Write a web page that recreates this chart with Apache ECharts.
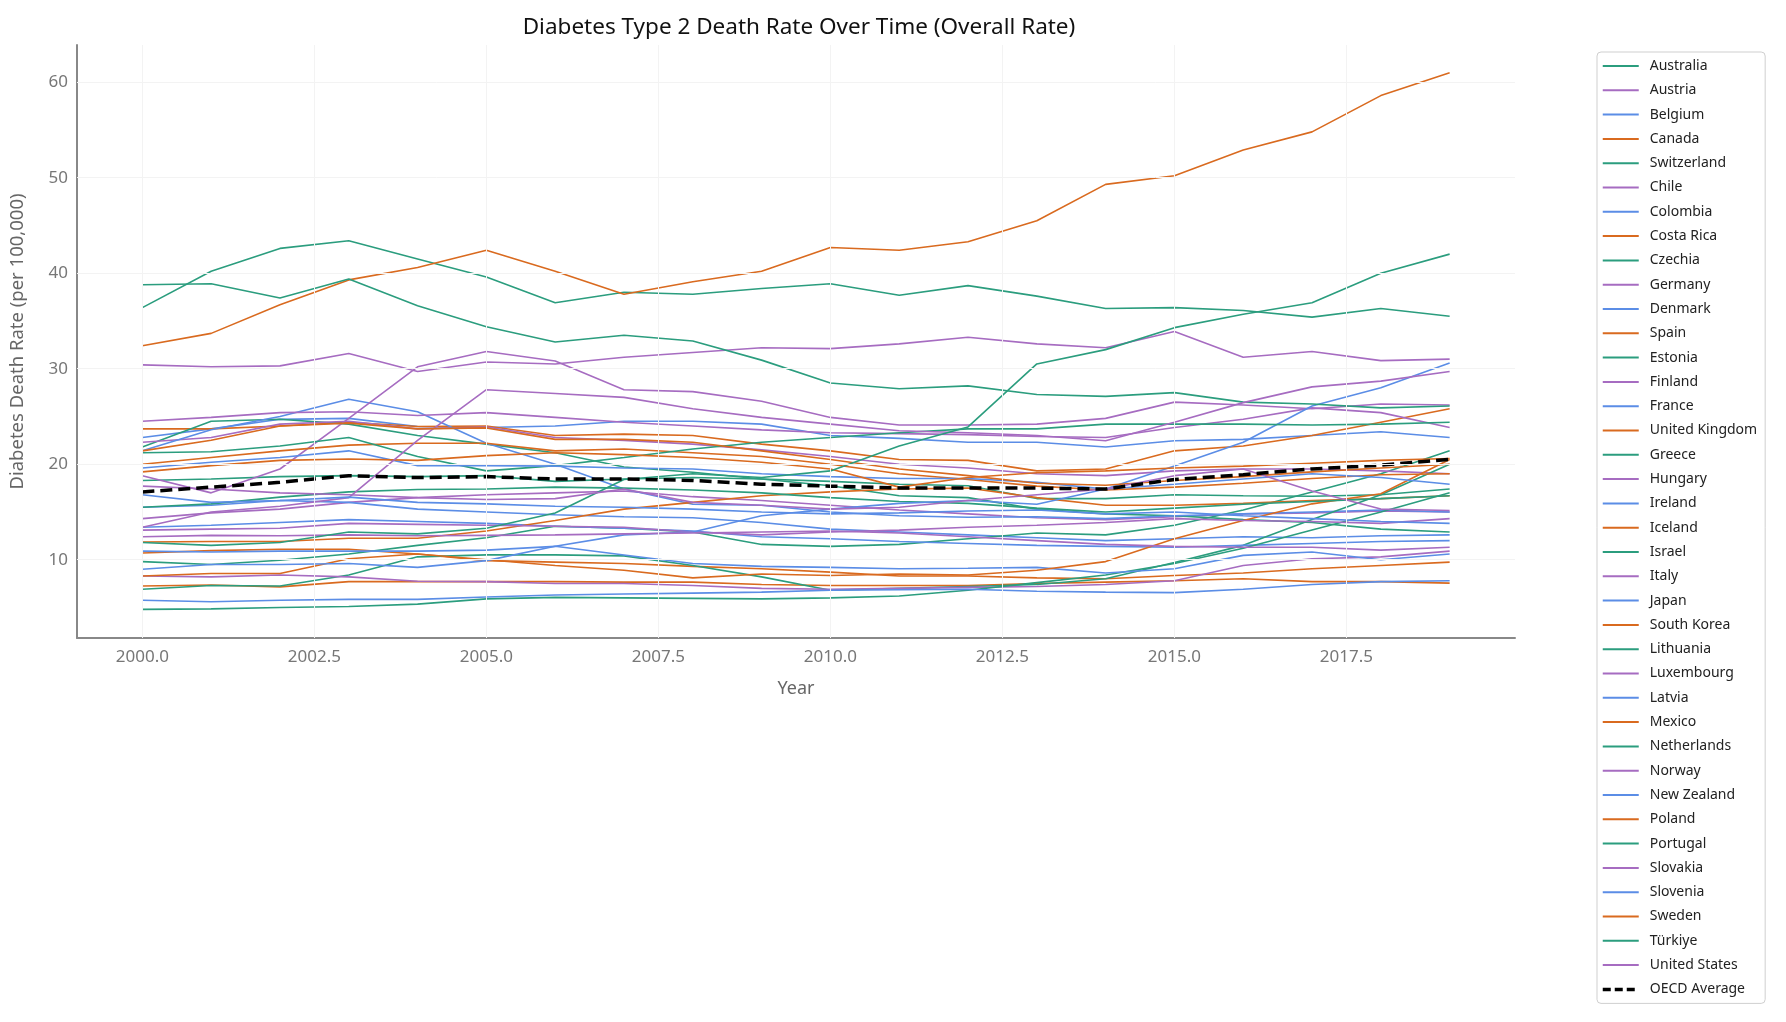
<!DOCTYPE html>
<html>
<head>
<meta charset="utf-8">
<script src="https://cdn.jsdelivr.net/npm/echarts@6/dist/echarts.min.js"></script>
<style>
html,body{margin:0;padding:0;background:#fff;}
#chart{width:1786px;height:1022px;}
</style>
</head>
<body>
<div id="chart"></div>
<script>
const years = [2000,2001,2002,2003,2004,2005,2006,2007,2008,2009,2010,2011,2012,2013,2014,2015,2016,2017,2018,2019];

const australia   = [18.3,18.45,18.7,18.8,18.7,18.8,18.2,18.45,18.6,18.45,18.2,17.9,17.75,16.4,16.4,16.8,16.7,16.65,16.8,17.4];
const austria     = [14.3,14.9,15.3,16.0,16.5,16.8,17.0,17.2,16.6,16.2,15.7,15.2,14.8,14.4,14.2,14.5,14.8,14.9,15.1,15.0];
const belgium     = [15.5,15.7,16.2,16.0,15.3,15.0,14.7,14.5,14.4,13.9,13.2,12.9,12.6,12.3,12.0,12.2,12.4,12.3,12.5,12.6];
const canada      = [10.7,10.95,11.1,11.1,10.6,9.9,9.75,9.6,9.3,9.05,8.7,8.3,8.3,8.1,8.0,8.35,8.6,9.05,9.4,9.75];
const switzerland = [9.8,9.5,9.95,10.6,11.5,12.3,13.5,13.3,12.9,11.6,11.4,11.6,12.2,12.8,12.6,13.6,15.2,17.1,19.0,21.4];
const chile       = [30.4,30.2,30.3,31.6,29.7,30.7,30.5,31.2,31.7,32.2,32.1,32.6,33.3,32.6,32.2,33.9,31.2,31.8,30.85,31.0];
const colombia    = [22.8,23.7,24.7,24.8,23.95,23.85,24.0,24.5,24.5,24.2,23.0,22.7,22.3,22.3,21.8,22.45,22.6,23.0,23.4,22.8];
const costaRica   = [23.7,23.7,24.0,24.4,23.95,24.0,23.0,23.15,23.0,22.1,21.4,20.5,20.4,19.3,19.5,21.4,21.9,23.0,24.4,25.8];
const czechia     = [21.8,24.5,24.7,24.2,23.0,22.1,21.2,19.7,19.15,18.45,17.75,16.7,16.5,15.3,14.8,14.6,14.2,13.9,13.2,12.9];
const germany     = [22.3,22.8,24.2,24.5,23.7,23.9,22.8,22.5,22.1,21.5,20.8,20.0,19.6,19.0,18.8,19.3,19.5,19.5,19.3,19.0];
const denmark     = [21.4,23.6,25.0,26.8,25.5,22.2,20.0,17.4,15.8,15.7,15.0,14.6,14.45,14.5,14.3,14.6,14.8,15.0,15.2,15.0];
const spain       = [7.25,7.35,7.15,7.7,7.7,7.7,7.7,7.65,7.65,7.4,7.3,7.3,7.3,7.5,7.65,7.8,8.0,7.7,7.7,7.55];
const estonia     = [6.9,7.3,7.25,8.4,10.3,10.5,10.5,10.4,9.4,8.2,6.8,7.0,7.2,7.4,8.0,9.7,11.5,14.2,16.8,20.0];
const finland     = [8.3,8.2,8.4,8.2,7.75,7.7,7.5,7.5,7.3,7.0,6.9,7.0,7.1,7.2,7.4,7.8,9.4,10.1,10.3,10.9];
const france      = [13.4,13.6,13.9,14.2,14.0,13.8,13.5,13.3,13.0,12.4,12.2,11.9,11.7,11.5,11.4,11.3,11.5,11.7,11.9,12.0];
const unitedKingdom = [11.85,11.9,11.9,12.25,12.25,13.0,14.1,15.3,16.0,16.7,17.1,17.4,17.5,16.5,15.7,15.7,15.9,16.2,16.4,16.7];
const greece      = [4.8,4.85,5.0,5.1,5.35,5.9,6.05,6.0,5.95,5.9,6.0,6.2,6.8,7.6,8.4,9.6,11.2,13.1,15.0,17.0];
const hungary     = [18.8,17.0,19.5,24.8,30.2,31.8,30.8,27.8,27.6,26.6,24.9,24.1,24.1,24.2,24.8,26.5,26.2,25.8,26.3,26.2];
const ireland     = [10.9,10.8,10.9,10.9,10.9,11.0,11.4,10.5,9.6,9.3,9.2,9.05,9.1,9.2,8.6,9.05,10.45,10.8,10.0,10.6];
const iceland     = [8.3,8.55,8.55,10.1,10.6,10.0,9.4,8.9,8.1,8.5,8.35,8.5,8.4,8.9,9.8,12.2,14.1,15.85,16.9,20.5];
const israel      = [36.4,40.2,42.6,43.4,41.5,39.6,36.9,38.0,37.8,38.4,38.9,37.7,38.7,37.6,36.3,36.4,36.1,35.4,36.3,35.5];
const italy       = [24.5,24.9,25.4,25.5,25.1,25.4,24.9,24.4,24.0,23.6,23.3,23.2,23.1,22.9,22.8,23.85,24.7,25.9,25.4,23.85];
const japan       = [5.75,5.6,5.75,5.85,5.85,6.1,6.3,6.4,6.5,6.6,6.8,6.85,6.9,6.7,6.6,6.55,6.9,7.4,7.7,7.8];
const southKorea  = [20.0,20.7,21.4,22.0,22.2,22.2,21.4,21.6,21.2,20.8,20.0,19.0,18.4,17.7,17.3,17.6,18.0,18.5,18.9,19.0];
const lithuania   = [15.5,15.85,16.55,17.1,17.35,17.4,17.6,17.5,17.3,17.0,16.5,16.1,15.9,15.4,15.0,15.4,15.8,16.1,16.4,16.7];
const luxembourg  = [13.1,13.2,13.3,13.8,13.7,13.6,13.5,13.4,12.9,12.6,12.9,13.1,13.4,13.6,13.9,14.3,14.1,14.0,13.8,14.3];
const latvia      = [9.0,9.5,9.5,9.6,9.2,9.9,11.4,12.6,12.9,14.6,15.3,15.9,16.2,15.8,17.4,19.8,22.3,26.1,28.0,30.6];
const mexico      = [32.4,33.7,36.7,39.3,40.6,42.4,40.2,37.8,39.1,40.2,42.7,42.4,43.3,45.5,49.3,50.2,52.9,54.8,58.6,61.0];
const netherlands = [21.2,21.3,21.9,22.8,20.8,19.3,19.85,20.7,21.6,22.3,22.8,23.3,23.7,23.7,24.2,24.2,24.2,24.1,24.2,24.4];
const norway      = [12.4,12.55,12.5,12.6,12.5,12.55,12.6,12.7,12.8,12.9,13.0,12.8,12.4,12.0,11.6,11.4,11.3,11.3,11.0,11.3];
const newZealand  = [19.6,20.2,20.7,21.4,19.85,19.85,19.8,19.6,19.5,19.0,18.7,18.5,18.5,18.1,17.4,17.9,18.45,19.0,18.6,17.9];
const poland      = [19.2,19.85,20.4,20.55,20.4,20.9,21.2,21.0,20.7,20.2,19.5,17.6,18.6,19.1,19.3,19.6,19.8,20.1,20.4,20.6];
const portugal    = [38.8,38.9,37.4,39.4,36.6,34.4,32.8,33.5,32.9,30.9,28.5,27.9,28.2,27.3,27.1,27.5,26.5,26.3,25.9,26.1];
const slovakia    = [13.4,15.0,15.6,16.5,22.5,27.8,27.4,27.0,25.8,24.9,24.2,23.5,23.3,23.0,22.45,24.4,26.45,28.1,28.7,29.7];
const slovenia    = [16.8,16.0,16.2,16.55,16.0,15.85,15.6,15.5,15.3,15.0,14.8,14.9,15.1,15.2,14.8,15.0,14.6,14.3,14.0,13.8];
const sweden      = [21.4,22.5,24.0,24.3,23.7,23.8,22.6,22.6,22.3,21.4,20.5,19.5,18.8,18.0,17.8,18.3,18.7,19.2,19.6,20.0];
const turkiye     = [11.8,11.5,11.8,12.9,12.7,13.3,14.9,18.4,19.0,18.6,19.3,21.9,23.9,30.5,32.0,34.3,35.7,36.9,40.0,42.0];
const unitedStates = [17.7,17.4,17.0,16.8,16.5,16.3,16.4,17.4,16.0,15.7,15.3,15.5,16.2,16.8,17.4,18.8,19.5,17.2,15.3,15.15];
const oecdAverage = [17.1,17.6,18.1,18.8,18.6,18.7,18.45,18.45,18.3,17.9,17.7,17.5,17.5,17.5,17.4,18.4,18.9,19.5,19.9,20.5];

const countryNames = ["Australia","Austria","Belgium","Canada","Switzerland","Chile","Colombia","Costa Rica","Czechia","Germany","Denmark","Spain","Estonia","Finland","France","United Kingdom","Greece","Hungary","Ireland","Iceland","Israel","Italy","Japan","South Korea","Lithuania","Luxembourg","Latvia","Mexico","Netherlands","Norway","New Zealand","Poland","Portugal","Slovakia","Slovenia","Sweden","Türkiye","United States"];
const countryValues = [australia,austria,belgium,canada,switzerland,chile,colombia,costaRica,czechia,germany,denmark,spain,estonia,finland,france,unitedKingdom,greece,hungary,ireland,iceland,israel,italy,japan,southKorea,lithuania,luxembourg,latvia,mexico,netherlands,norway,newZealand,poland,portugal,slovakia,slovenia,sweden,turkiye,unitedStates];

const xTickLabels = [2000,2002.5,2005,2007.5,2010,2012.5,2015,2017.5];
const yTickLabels = [10,20,30,40,50,60];

const palette = ['#2b9d7e','#a66cc1','#5b8de6','#d96a1f'];
const FONT = 'Noto Sans';

const series = countryNames.map((name, i) => ({
  name: name,
  type: 'line',
  symbol: 'none',
  data: years.map((y, j) => [y, countryValues[i][j]]),
  lineStyle: { width: 1.6, color: palette[i % 4] },
  itemStyle: { color: palette[i % 4] },
  emphasis: { disabled: true },
  z: 3
}));

series.push({
  name: 'OECD Average',
  type: 'line',
  symbol: 'none',
  data: years.map((y, j) => [y, oecdAverage[j]]),
  lineStyle: { width: 3.5, color: '#000', type: [12, 6] },
  itemStyle: { color: '#000' },
  emphasis: { disabled: true },
  z: 4
});

series.unshift({
  name: '__grid',
  type: 'line',
  data: [],
  silent: true,
  z: 1,
  markLine: {
    silent: true,
    symbol: ['none', 'none'],
    animation: false,
    label: { show: false },
    lineStyle: { color: '#f3f3f3', width: 1, type: 'solid' },
    emphasis: { disabled: true },
    data: xTickLabels.map(v => ({ xAxis: v })).concat(yTickLabels.map(v => ({ yAxis: v })))
  }
});

const legendData = countryNames.map((n, i) => ({ name: n, lineStyle: { width: 2, color: palette[i % 4] } }))
  .concat([{ name: 'OECD Average', lineStyle: { width: 3.5, color: '#000', type: [8, 4] } }]);

const chart = echarts.init(document.getElementById('chart'), null, { renderer: 'canvas' });
chart.setOption({
  animation: false,
  backgroundColor: '#ffffff',
  textStyle: { fontFamily: FONT },
  title: {
    text: 'Diabetes Type 2 Death Rate Over Time (Overall Rate)',
    left: 794, top: 11, textAlign: 'center',
    textStyle: { fontFamily: FONT, fontSize: 22.5, fontWeight: 'normal', color: '#111' }
  },
  grid: { left: 74, right: 271, top: 45, bottom: 384, containLabel: false },
  xAxis: {
    type: 'value',
    min: 1999.05, max: 2019.95,
    name: 'Year', nameLocation: 'middle', nameGap: 42,
    nameTextStyle: { fontFamily: FONT, fontSize: 18, color: '#666' },
    axisLine: { show: true, lineStyle: { color: '#888', width: 2 } },
    axisTick: { show: false },
    splitLine: { show: false },
    axisLabel: {
      customValues: xTickLabels,
      formatter: v => Number(v).toFixed(1),
      fontFamily: FONT, fontSize: 17, color: '#777', margin: 11
    }
  },
  yAxis: {
    type: 'value',
    min: 1.8, max: 63.9,
    name: 'Diabetes Death Rate (per 100,000)', nameLocation: 'middle', nameGap: 50,
    nameTextStyle: { fontFamily: FONT, fontSize: 18.5, color: '#666' },
    axisLine: { show: true, lineStyle: { color: '#888', width: 2 } },
    axisTick: { show: false },
    splitLine: { show: false },
    axisLabel: {
      customValues: yTickLabels,
      fontFamily: FONT, fontSize: 17, color: '#777', margin: 9
    }
  },
  legend: {
    orient: 'vertical',
    left: 1597, top: 52,
    data: legendData,
    itemWidth: 36, itemHeight: 14, itemGap: 10.3,
    itemStyle: { opacity: 0 },
    padding: [7, 8, 7, 4],
    borderColor: '#cfcfcf', borderWidth: 1, borderRadius: 4,
    backgroundColor: '#fff',
    textStyle: { fontFamily: FONT, fontSize: 14, color: '#222', padding: [0, 0, 0, 6] },
    selectedMode: false
  },
  series: series
});
</script>
</body>
</html>
